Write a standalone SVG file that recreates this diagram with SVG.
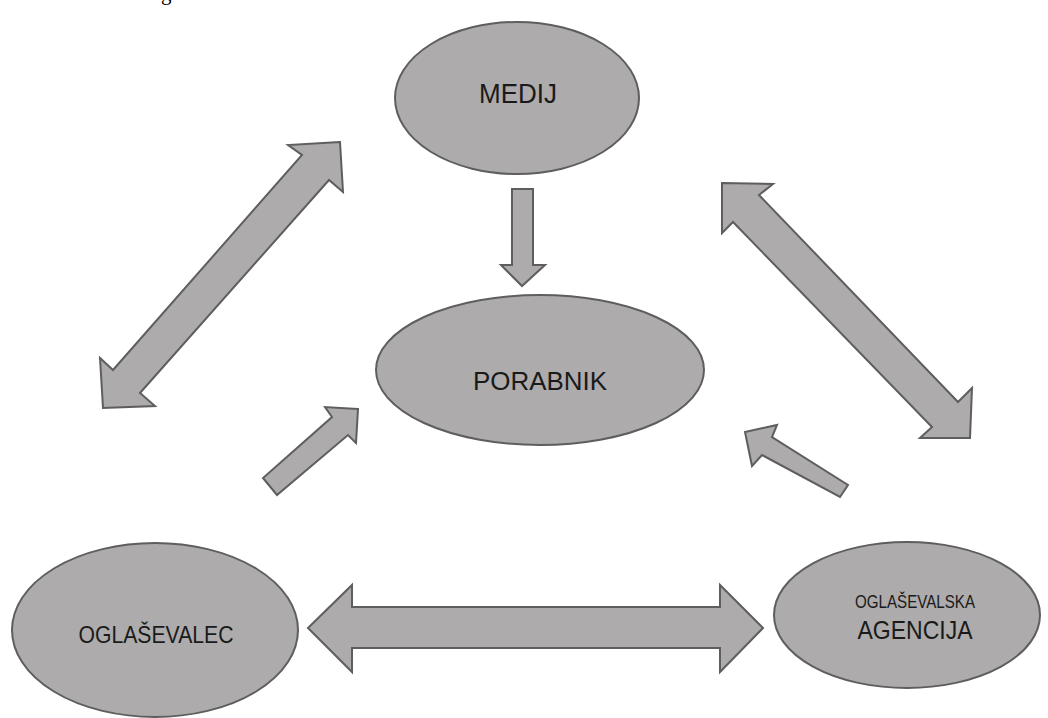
<svg xmlns="http://www.w3.org/2000/svg" width="1048" height="718" viewBox="0 0 1048 718">
<style>
.node{fill:#adabab;stroke:#5e5e5e;stroke-width:2}
.arr{fill:#adabab;stroke:#5e5e5e;stroke-width:2;stroke-linejoin:miter}
.lbl{font-family:"Liberation Sans",Arial,sans-serif;fill:#1a1a1a;text-anchor:middle}
</style>
<rect width="1048" height="718" fill="#ffffff"/>
<text x="161" y="0" font-family="Liberation Serif,serif" font-size="21" fill="#000">g</text>
<g id="connectors">
<polygon class="arr" points="340,142 288,145 302,155 113,370 100,358 103,408 155,406 140,393 329,180 343,192"/>
<polygon class="arr" points="722,183 773,184 759,195 958,402 972,388 970,438 920,438 932,427 733,222 722,233"/>
<polygon class="arr" points="512,189 533,189 533,265 545,265 522,286 501,265 512,265"/>
<polygon class="arr" points="358,409 325,407 332,417 263,478 277,495 348,435 356,443"/>
<polygon class="arr" points="745,432 777,425 772,437 848,485 840,497 762,455 752,466"/>
<polygon class="arr" points="308,628 352,585 352,607 720,607 720,585 763,628 720,672 720,648 352,648 352,672"/>
</g>
<g id="medij">
<ellipse class="node" cx="517" cy="98" rx="122" ry="76"/>
<text class="lbl" x="518" y="103" font-size="27" textLength="78" lengthAdjust="spacingAndGlyphs">MEDIJ</text>
</g>
<g id="porabnik">
<ellipse class="node" cx="540" cy="370" rx="164" ry="75"/>
<text class="lbl" x="540" y="390" font-size="25" textLength="134" lengthAdjust="spacingAndGlyphs">PORABNIK</text>
</g>
<g id="oglasevalec">
<ellipse class="node" cx="155" cy="630" rx="143" ry="87"/>
<text class="lbl" x="156" y="643" font-size="24" textLength="155" lengthAdjust="spacingAndGlyphs">OGLAŠEVALEC</text>
</g>
<g id="agencija">
<ellipse class="node" cx="907" cy="615" rx="133" ry="73"/>
<text class="lbl" x="915" y="608" font-size="18" textLength="120" lengthAdjust="spacingAndGlyphs">OGLAŠEVALSKA</text>
<text class="lbl" x="915" y="639" font-size="25" textLength="115" lengthAdjust="spacingAndGlyphs">AGENCIJA</text>
</g>
</svg>
